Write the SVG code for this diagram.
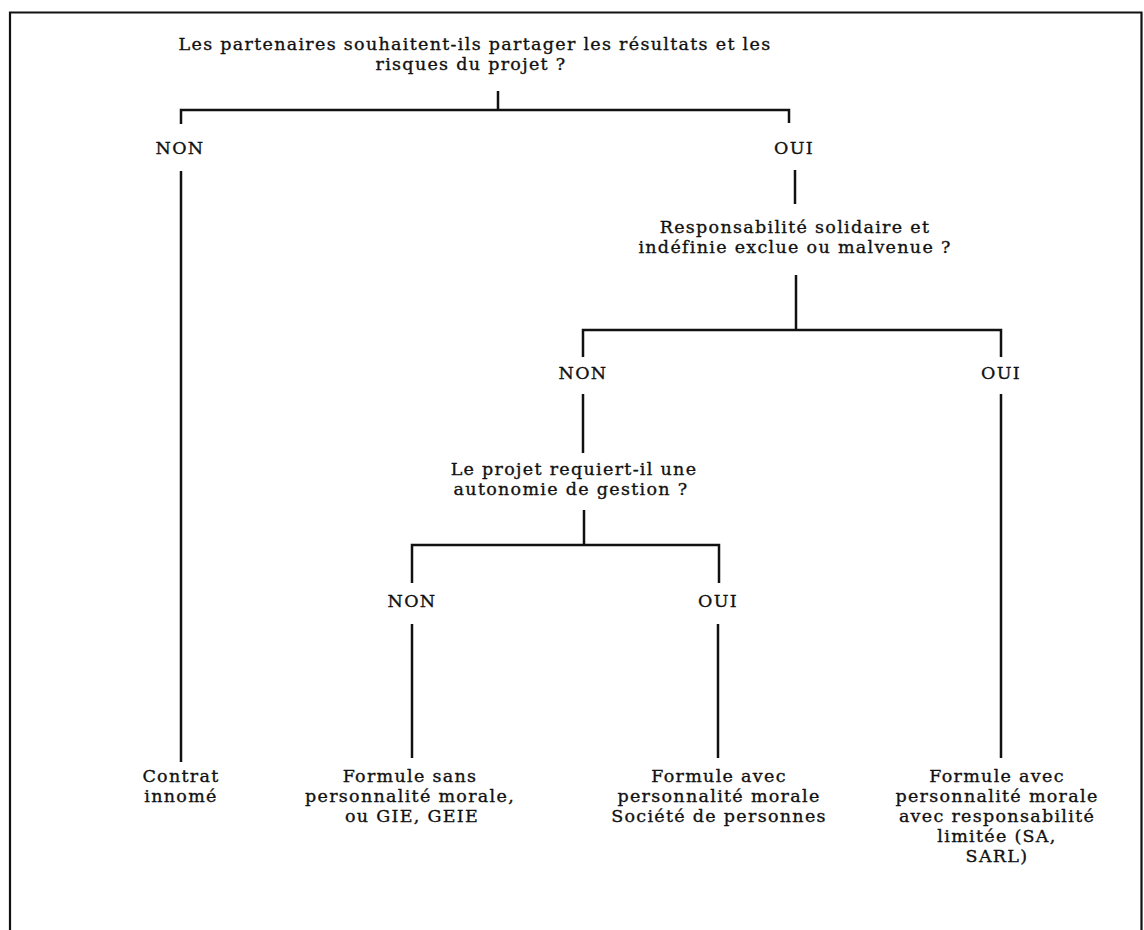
<svg xmlns="http://www.w3.org/2000/svg" width="1144" height="930" viewBox="0 0 1144 930">
  <style>
    .t { font-family: "DejaVu Serif", "Liberation Serif", serif; font-size: 17.5px; fill: #111; stroke: #111; stroke-width: 0.35; text-anchor: middle; letter-spacing: 1.3px; }
    .c { stroke: #111; stroke-width: 2.5; fill: none; stroke-linecap: butt; }
    .frame { stroke: #111; stroke-width: 2.2; fill: none; }
  </style>
  <rect width="1144" height="930" fill="#fff"/>

  <!-- page frame (open at the bottom) -->
  <path class="frame" d="M10,930 V12.5 H1141.5 V930"/>

  <!-- connectors -->
  <g id="connectors">
    <!-- root question split -->
    <path class="c" d="M498,91 V110 M181,124 V110 H789 V123"/>
    <path class="c" d="M181,171 V762"/>
    <path class="c" d="M795,170 V204"/>
    <!-- liability question split -->
    <path class="c" d="M796,275 V330 M583,357 V330 H1001 V357"/>
    <path class="c" d="M583,394 V453"/>
    <path class="c" d="M1001,394 V758"/>
    <!-- autonomy question split -->
    <path class="c" d="M584,510 V545 M412,583 V545 H719 V583"/>
    <path class="c" d="M412,624 V758"/>
    <path class="c" d="M718,624 V758"/>
  </g>

  <g id="q-partage">
    <text class="t" x="475" y="50">Les partenaires souhaitent-ils partager les résultats et les</text>
    <text class="t" x="471" y="70">risques du projet ?</text>
  </g>
  <g id="non-1"><text class="t" x="180" y="154">NON</text></g>
  <g id="oui-1"><text class="t" x="794" y="154">OUI</text></g>

  <g id="q-responsabilite">
    <text class="t" x="795" y="233">Responsabilité solidaire et</text>
    <text class="t" x="795" y="253">indéfinie exclue ou malvenue ?</text>
  </g>
  <g id="non-2"><text class="t" x="583" y="379">NON</text></g>
  <g id="oui-2"><text class="t" x="1001" y="379">OUI</text></g>

  <g id="q-autonomie">
    <text class="t" x="574" y="475">Le projet requiert-il une</text>
    <text class="t" x="571" y="495">autonomie de gestion ?</text>
  </g>
  <g id="non-3"><text class="t" x="412" y="607">NON</text></g>
  <g id="oui-3"><text class="t" x="718" y="607">OUI</text></g>

  <g id="r-contrat">
    <text class="t" x="181" y="782">Contrat</text>
    <text class="t" x="181" y="802">innomé</text>
  </g>
  <g id="r-sans-pm">
    <text class="t" x="410" y="782">Formule sans</text>
    <text class="t" x="410" y="802">personnalité morale,</text>
    <text class="t" x="412" y="822">ou GIE, GEIE</text>
  </g>
  <g id="r-societe-personnes">
    <text class="t" x="719" y="782">Formule avec</text>
    <text class="t" x="719" y="802">personnalité morale</text>
    <text class="t" x="719" y="822">Société de personnes</text>
  </g>
  <g id="r-resp-limitee">
    <text class="t" x="997" y="782">Formule avec</text>
    <text class="t" x="997" y="802">personnalité morale</text>
    <text class="t" x="997" y="822">avec responsabilité</text>
    <text class="t" x="997" y="842">limitée (SA,</text>
    <text class="t" x="997" y="862">SARL)</text>
  </g>
</svg>
